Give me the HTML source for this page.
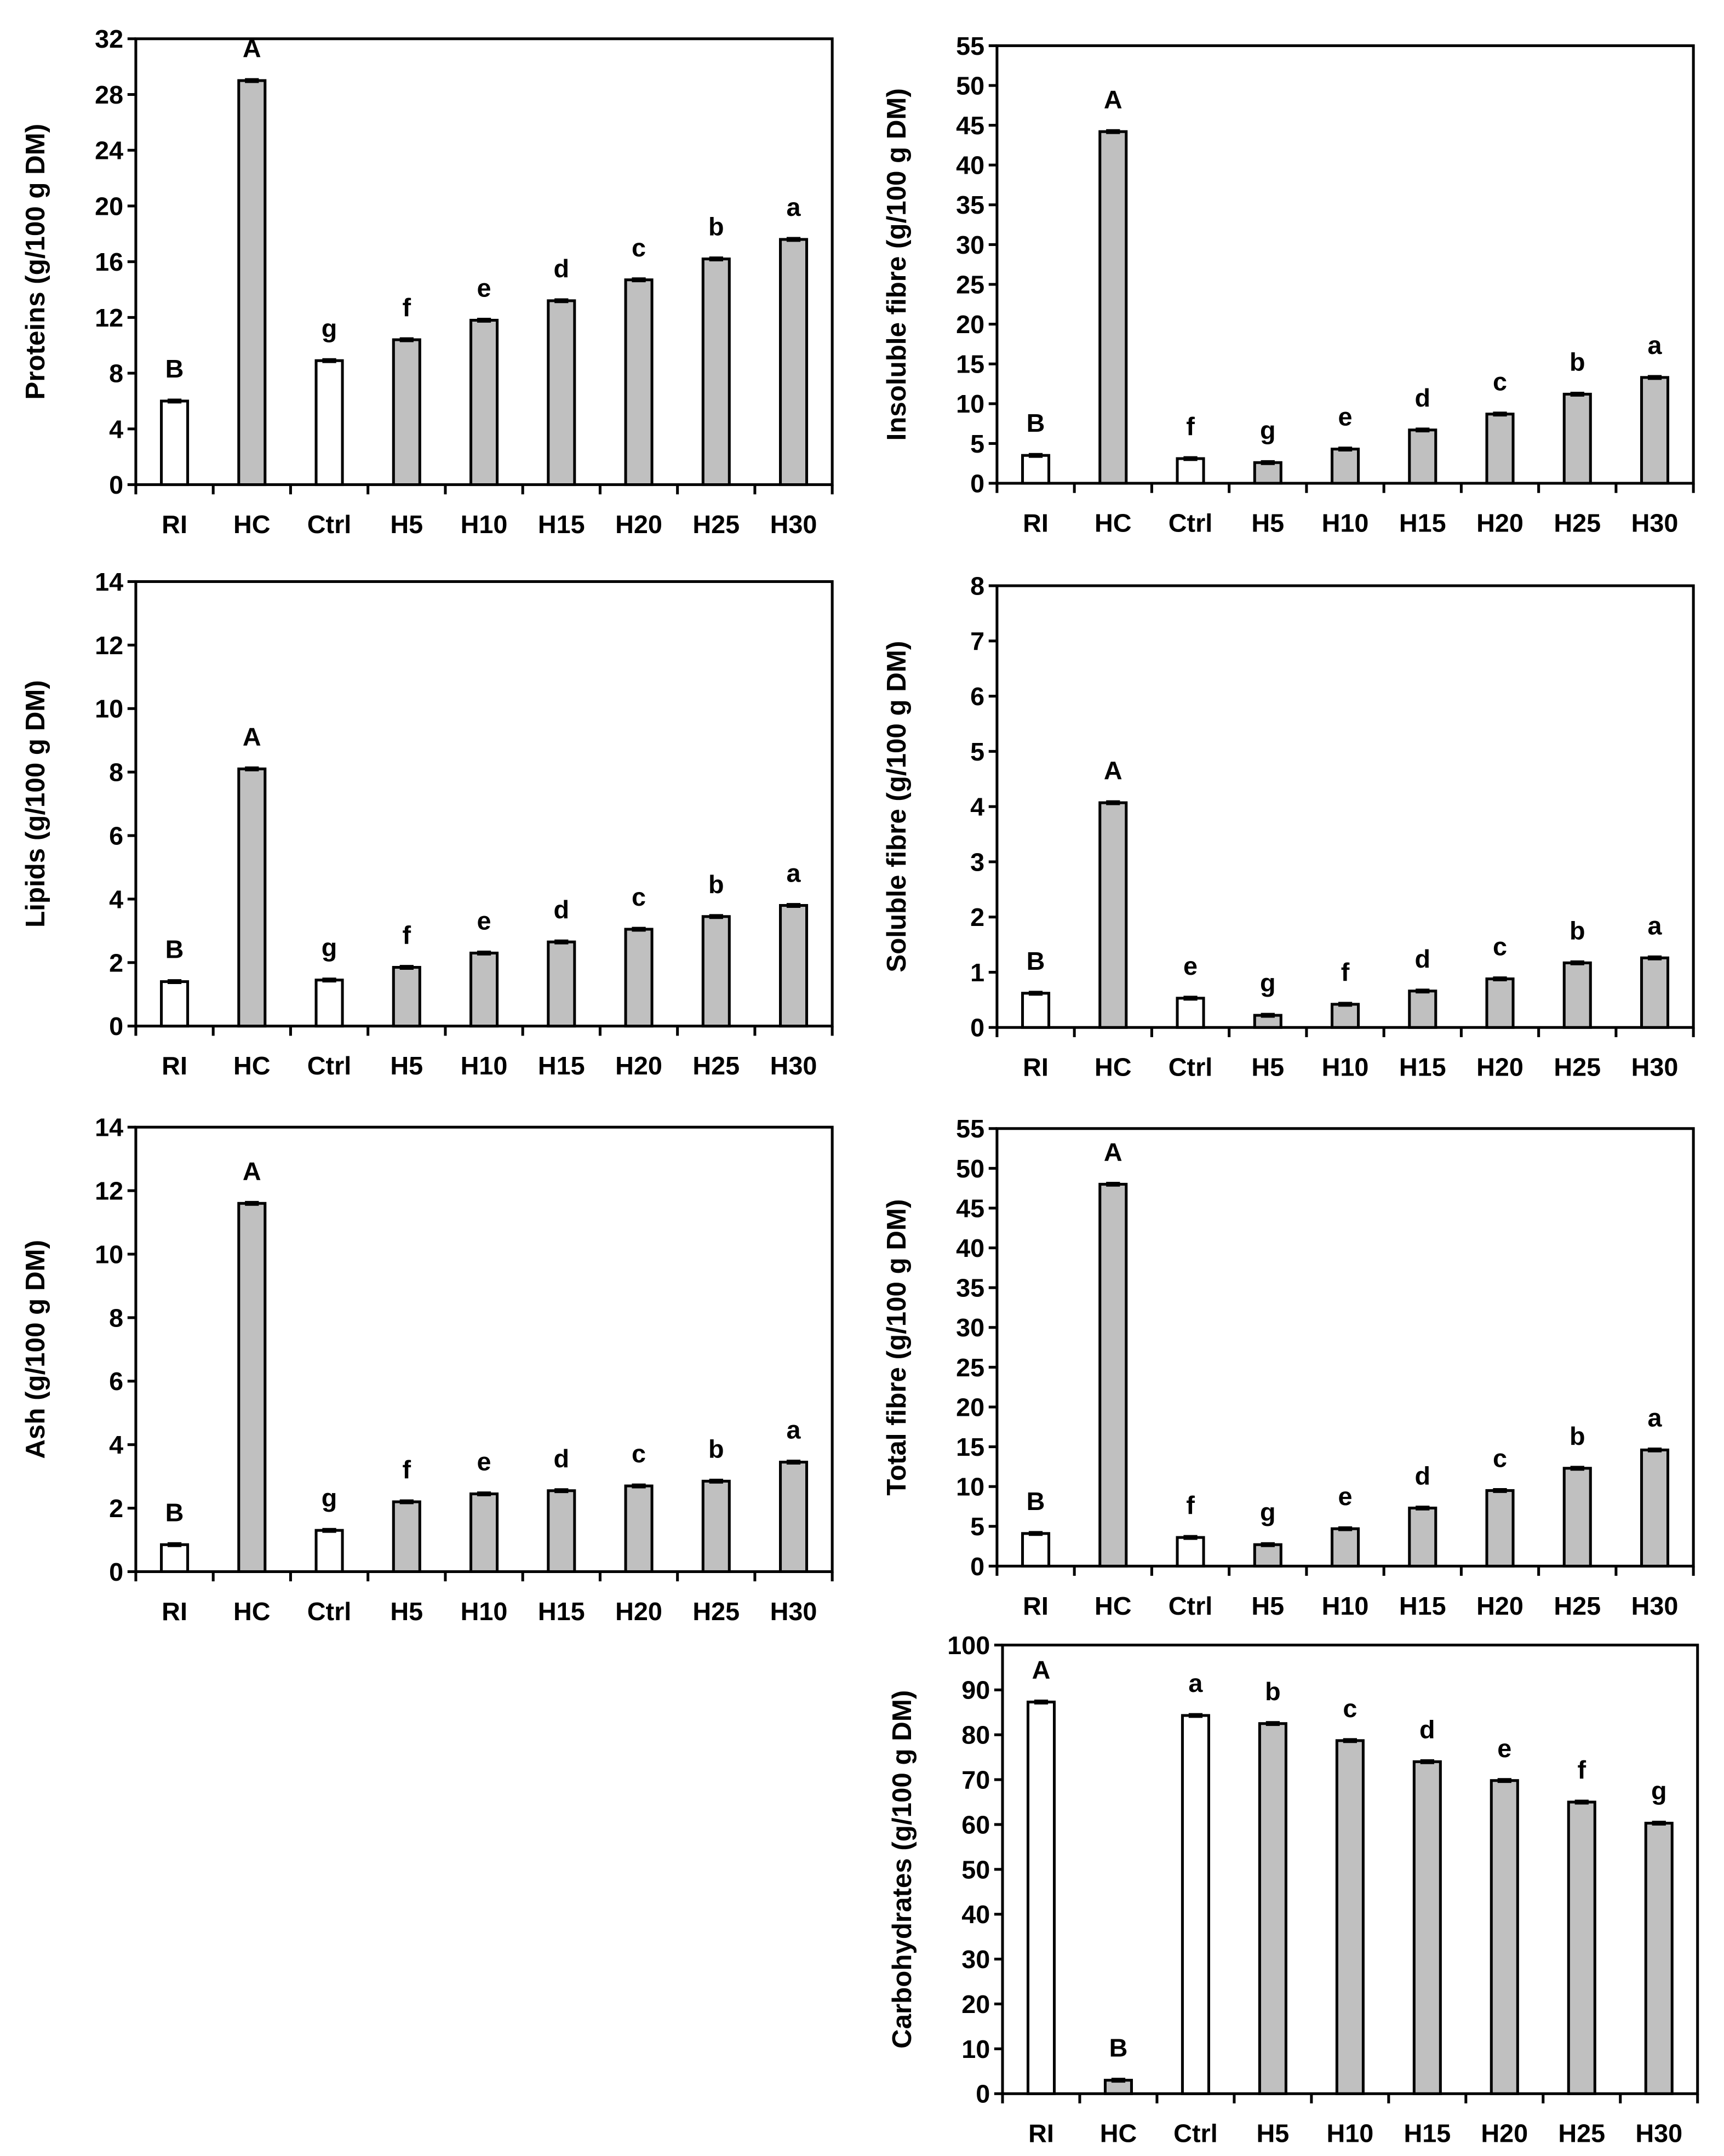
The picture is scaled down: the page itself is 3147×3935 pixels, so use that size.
<!DOCTYPE html>
<html><head><meta charset="utf-8">
<style>
html,body{margin:0;padding:0;background:#fff;}
svg{display:block;}
text{font-family:"Liberation Sans",sans-serif;font-weight:bold;fill:#000;}
</style></head>
<body>
<svg id="fig" width="3147" height="3935" viewBox="0 0 1245 1557" xmlns="http://www.w3.org/2000/svg"></svg>
<script>
const categories = ["RI","HC","Ctrl","H5","H10","H15","H20","H25","H30"];
const proteinsValues = [6.0,29.0,8.9,10.4,11.8,13.2,14.7,16.2,17.6];
const proteinsLetters = ["B","A","g","f","e","d","c","b","a"];
const insolubleValues = [3.5,44.2,3.1,2.6,4.3,6.7,8.7,11.2,13.3];
const insolubleLetters = ["B","A","f","g","e","d","c","b","a"];
const lipidsValues = [1.4,8.1,1.45,1.85,2.3,2.65,3.05,3.45,3.8];
const lipidsLetters = ["B","A","g","f","e","d","c","b","a"];
const solubleValues = [0.62,4.07,0.53,0.22,0.42,0.66,0.88,1.17,1.26];
const solubleLetters = ["B","A","e","g","f","d","c","b","a"];
const ashValues = [0.85,11.6,1.3,2.2,2.45,2.55,2.7,2.85,3.45];
const ashLetters = ["B","A","g","f","e","d","c","b","a"];
const totalValues = [4.1,48.0,3.6,2.7,4.7,7.3,9.5,12.3,14.6];
const totalLetters = ["B","A","f","g","e","d","c","b","a"];
const carbsValues = [87.3,3.0,84.3,82.5,78.7,74.0,69.8,65.0,60.3];
const carbsLetters = ["A","B","a","b","c","d","e","f","g"];
const proteinsTicks = [0,4,8,12,16,20,24,28,32];
const fibreTicks = [0,5,10,15,20,25,30,35,40,45,50,55];
const lipidTicks = [0,2,4,6,8,10,12,14];
const solubleTicks = [0,1,2,3,4,5,6,7,8];
const carbTicks = [0,10,20,30,40,50,60,70,80,90,100];
const whiteBars = ["RI","Ctrl"];

const NS="http://www.w3.org/2000/svg";
const svg=document.getElementById('fig');
function mk(tag,attrs,parent){const e=document.createElementNS(NS,tag);for(const k in attrs)e.setAttribute(k,attrs[k]);(parent||svg).appendChild(e);return e;}

function chart(name,title,values,letters,ticks,L,R,T,B){
  const g=mk('g',{});
  
  
  const maxV=ticks[ticks.length-1];
  const y=v=>B-(v/maxV)*(B-T);
  const n=categories.length, step=(R-L)/n;
  const x=i=>L+step*(i+0.5);
  const fr=mk('rect',{x:L,y:T,width:R-L,height:B-T,fill:'none',stroke:'#000','stroke-width':2},g);
  
  
  ticks.forEach(t=>{
    mk('line',{x1:L-6,x2:L,y1:y(t),y2:y(t),stroke:'#000','stroke-width':2},g);
    const tx=mk('text',{x:L-9,y:y(t)+6.5,'text-anchor':'end','font-size':18.5},g);
    tx.textContent=t;
    
    
  });
  for(let i=0;i<=n;i++){mk('line',{x1:L+step*i,x2:L+step*i,y1:B,y2:B+7,stroke:'#000','stroke-width':2},g);}
  categories.forEach((c,i)=>{
    const v=values[i];
    const bw=19;
    const bar=mk('rect',{x:x(i)-bw/2,y:y(v),width:bw,height:B-y(v),fill:whiteBars.includes(c)?'#fff':'#c0c0c0',stroke:'#000','stroke-width':2},g);
    
    
    mk('line',{x1:x(i)-5,x2:x(i)+5,y1:y(v),y2:y(v),stroke:'#000','stroke-width':3.5},g);
    const lb=mk('text',{x:x(i),y:y(v)-17,'text-anchor':'middle','font-size':18.5},g);
    lb.textContent=letters[i];
    
    
    const xl=mk('text',{x:x(i),y:B+35,'text-anchor':'middle','font-size':18.5},g);
    xl.textContent=c;
    
    
  });
  const cy=(T+B)/2, tx=L-66;
  const at=mk('text',{x:tx,y:cy,'text-anchor':'middle','font-size':19.5,transform:`rotate(-90 ${tx} ${cy})`},g);
  at.textContent=title;
  
  
}
chart('proteins','Proteins (g/100 g DM)',proteinsValues,proteinsLetters,proteinsTicks,98,601,28,350);
chart('insoluble-fibre','Insoluble fibre (g/100 g DM)',insolubleValues,insolubleLetters,fibreTicks,720,1223,33,349);
chart('lipids','Lipids (g/100 g DM)',lipidsValues,lipidsLetters,lipidTicks,98,601,420,741);
chart('soluble-fibre','Soluble fibre (g/100 g DM)',solubleValues,solubleLetters,solubleTicks,720,1223,423,742);
chart('ash','Ash (g/100 g DM)',ashValues,ashLetters,lipidTicks,98,601,814,1135);
chart('total-fibre','Total fibre (g/100 g DM)',totalValues,totalLetters,fibreTicks,720,1223,815,1131);
chart('carbohydrates','Carbohydrates (g/100 g DM)',carbsValues,carbsLetters,carbTicks,724,1226,1188,1512);
</script>
</body></html>
